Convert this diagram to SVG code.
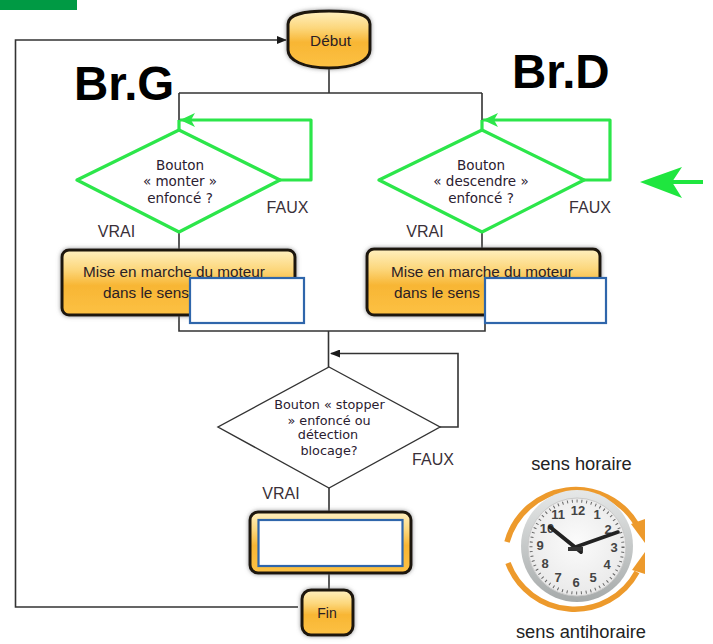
<svg xmlns="http://www.w3.org/2000/svg" width="713" height="644" viewBox="0 0 713 644">
<style>
.l{fill:none;stroke:#333;stroke-width:1.6}
.g{fill:none;stroke:#2ce64a;stroke-width:3.2;stroke-linejoin:round}
.d{fill:#fff;stroke:#333;stroke-width:1.4}
.dg{fill:#fff;stroke:#2ce64a;stroke-width:3.2;stroke-linejoin:round}
.b{fill:url(#o);stroke:#1c1208;stroke-width:3;filter:url(#s)}
.w{fill:#fff;stroke:#2f66ab;stroke-width:2.2}
.t{font-family:"DejaVu Sans",sans-serif;font-size:13.5px;fill:#2a2030;text-anchor:middle}
.t2{font-family:"DejaVu Sans",sans-serif;font-size:12.8px;fill:#2a2030;text-anchor:middle}
.m{font-family:"Liberation Sans",sans-serif;font-size:15.3px;fill:#2a2025;text-anchor:middle}
.v{font-family:"Liberation Sans",sans-serif;font-size:16px;fill:#3a3038;text-anchor:middle}
.big{font-family:"Liberation Sans",sans-serif;font-size:47.5px;font-weight:bold;fill:#000}
.c{font-family:"Liberation Sans",sans-serif;font-size:18.3px;fill:#222;text-anchor:middle}
.n{font-family:"Liberation Sans",sans-serif;font-size:13px;font-weight:bold;fill:#444;text-anchor:middle}
.a{fill:none;stroke:#ed9a2c;stroke-width:5.5}
</style>
<defs>
<linearGradient id="o" x1="0" y1="0" x2="0" y2="1">
<stop offset="0" stop-color="#fff0c0"/><stop offset=".3" stop-color="#fcd77c"/><stop offset=".55" stop-color="#f8b634"/><stop offset="1" stop-color="#fcc144"/>
</linearGradient>
<radialGradient id="f" cx=".5" cy=".45" r=".6"><stop offset="0" stop-color="#fbfbfb"/><stop offset="1" stop-color="#e8e8e8"/></radialGradient>
<linearGradient id="r" x1="0" y1="0" x2="0" y2="1"><stop offset="0" stop-color="#e6e8e8"/><stop offset="1" stop-color="#a6aaaa"/></linearGradient>
<filter id="s" x="-10%" y="-15%" width="120%" height="130%"><feDropShadow dx="0" dy="0" stdDeviation="2.2" flood-color="#777" flood-opacity=".8"/></filter>
<marker id="ah" markerWidth="10" markerHeight="8" refX="9" refY="4" orient="auto" markerUnits="userSpaceOnUse"><path d="M0 0L10 4L0 8z" fill="#1a1a1a"/></marker>
<marker id="ag" markerWidth="16" markerHeight="14" refX="15" refY="7" orient="auto" markerUnits="userSpaceOnUse"><path d="M0 0L15 7L0 14L4 7z" fill="#2ce64a"/></marker>
</defs>
<rect x="0" y="0" width="77" height="10" fill="#009a44"/>

<g id="connectors">
<path class="l" d="M298 607H15.5V40H286" marker-end="url(#ah)"/>
<path class="l" d="M329 68V93M179 93H482M179 93V130M482 93V130"/>
<path class="l" d="M179 232V250M482 232V250"/>
<path class="l" d="M179 315V331H485V323M328.500 331V367"/>
<path class="l" d="M329 488V511M329 573V590"/>
<path class="l" d="M440 427H458V353.500H331" marker-end="url(#ah)"/>
<path class="g" d="M280 180H311V120H180" marker-end="url(#ag)"/>
<path class="g" d="M584 180H610V120H483" marker-end="url(#ag)"/>
<path class="g" d="M179 130V120M482 130V120"/>
</g>

<g id="debut">
<path class="b" d="M288 24C288 15 300 11 329 11C358 11 370 15 370 24V50C370 60 355 68 329 68C303 68 288 60 288 50Z"/>
<text class="m" x="330.500" y="46">Début</text>
</g>
<text class="big" x="74" y="100">Br.G</text>
<text class="big" x="512" y="88">Br.D</text>

<g id="test-monter">
<polygon class="dg" points="179,130 280,180 179,232 77,180"/>
<text class="t" x="180" y="170">Bouton</text>
<text class="t" x="180" y="186">« monter »</text>
<text class="t" x="180" y="203">enfoncé ?</text>
</g>
<g id="test-descendre">
<polygon class="dg" points="482,130 584,180 482,232 379,180"/>
<text class="t" x="481" y="170">Bouton</text>
<text class="t" x="481" y="186">« descendre »</text>
<text class="t" x="481" y="203">enfoncé ?</text>
</g>
<text class="v" x="287.500" y="213">FAUX</text>
<text class="v" x="116.500" y="237">VRAI</text>
<text class="v" x="590" y="213">FAUX</text>
<text class="v" x="425" y="237">VRAI</text>

<g id="moteur-gauche">
<rect class="b" x="62" y="250" width="233" height="65" rx="7"/>
<text class="m" x="174" y="277">Mise en marche du moteur</text>
<text class="m" x="146" y="298">dans le sens</text>
<rect class="w" x="190" y="278" width="114" height="45"/>
</g>
<g id="moteur-droite">
<rect class="b" x="367" y="249" width="233" height="66" rx="7"/>
<text class="m" x="482" y="277">Mise en marche du moteur</text>
<text class="m" x="437" y="298">dans le sens</text>
<rect class="w" x="485" y="278" width="121" height="45"/>
</g>

<g id="test-stopper">
<polygon class="d" points="329,367 440,427 329,488 218,427"/>
<text class="t2" x="329.500" y="409">Bouton « stopper</text>
<text class="t2" x="329" y="425">» enfoncé ou</text>
<text class="t2" x="328" y="439">détection</text>
<text class="t2" x="329" y="455">blocage?</text>
</g>
<text class="v" x="433" y="465">FAUX</text>
<text class="v" x="281" y="499">VRAI</text>

<g id="arret">
<rect class="b" x="250" y="512" width="161" height="61" rx="8"/>
<rect class="w" x="258.500" y="520" width="144" height="46"/>
</g>
<g id="fin">
<rect class="b" x="302" y="590" width="51" height="45" rx="9"/>
<text class="m" x="327" y="618" style="font-size:14px">Fin</text>
</g>

<g id="horloge">
<text class="c" x="581.500" y="470">sens horaire</text>
<text class="c" x="581" y="638">sens antihoraire</text>
<path class="a" d="M507 542A71 71 0 0 1 637 525"/>
<polygon points="631,524 645,519 645,543" fill="#ed9a2c"/>
<path class="a" d="M508 563A71 71 0 0 0 637 572"/>
<polygon points="632,570 645,574 645,552" fill="#ed9a2c"/>
<circle cx="577" cy="546" r="56" fill="url(#r)"/>
<circle cx="577" cy="547" r="49" fill="url(#f)" stroke="#c9c9c9"/>
<circle cx="577" cy="547" r="46" fill="none" stroke="#666" stroke-width="3" stroke-dasharray="1 3.800"/>
<text class="n" x="578" y="515">12</text><text class="n" x="597" y="519">1</text><text class="n" x="608" y="534">2</text><text class="n" x="614" y="552">3</text><text class="n" x="607" y="569">4</text><text class="n" x="593" y="582">5</text><text class="n" x="576" y="587">6</text><text class="n" x="558" y="582">7</text><text class="n" x="545" y="568">8</text><text class="n" x="540" y="550">9</text><text class="n" x="547" y="533">10</text><text class="n" x="558" y="519">11</text>
<path d="M550 527L581 552" stroke="#222" stroke-width="4" stroke-linecap="round"/>
<path d="M570 549L618 532" stroke="#222" stroke-width="3.500" stroke-linecap="round"/>
<path d="M568 549H583" stroke="#333" stroke-width="4"/>
</g>

<g id="fleche">
<path d="M703 182H660" stroke="#1fe63f" stroke-width="4" fill="none"/>
<path d="M640 182L682 167L672 182L682 198Z" fill="#1fe63f"/>
</g>
</svg>
